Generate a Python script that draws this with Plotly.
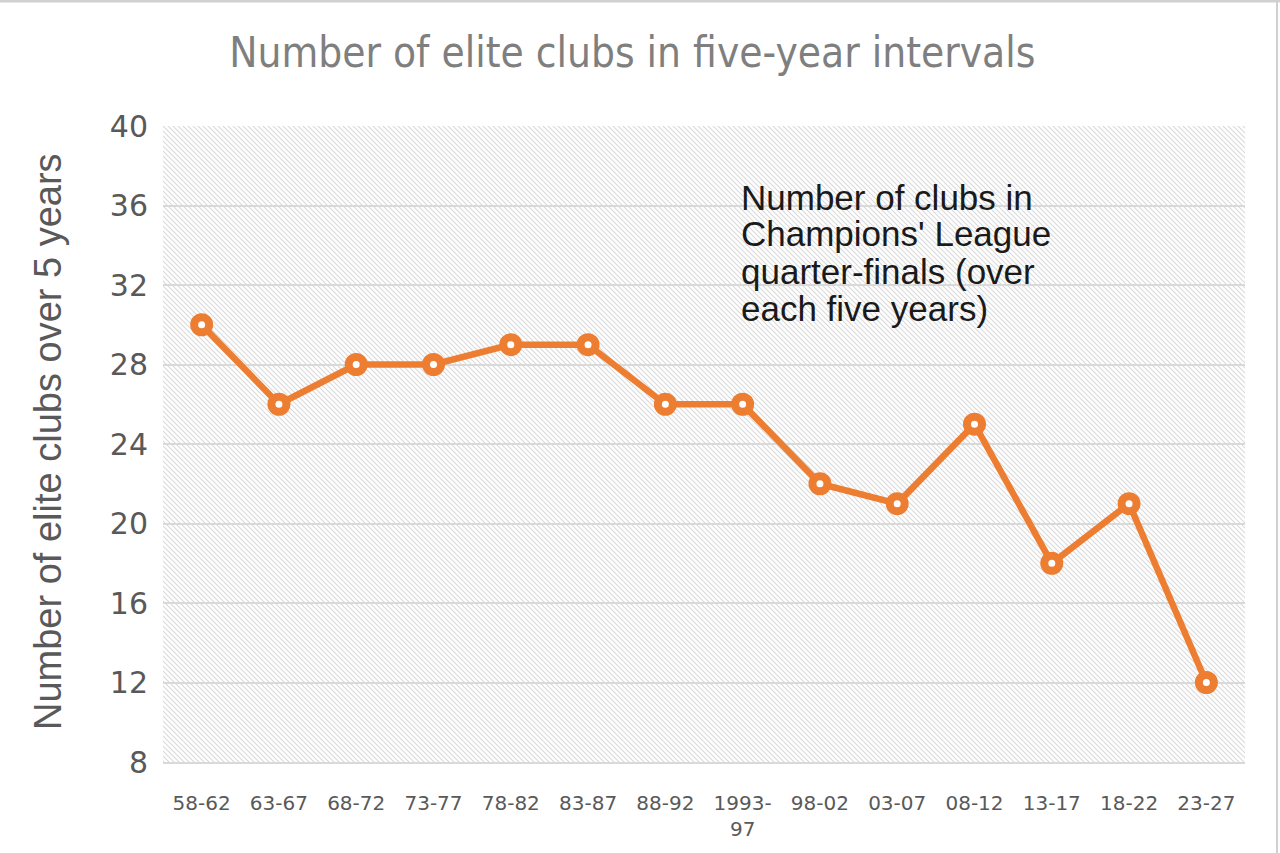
import base64
import plotly.graph_objects as go

# ---- data ----
periods = ["58-62", "63-67", "68-72", "73-77", "78-82", "83-87", "88-92",
           "1993-<br>97", "98-02", "03-07", "08-12", "13-17", "18-22", "23-27"]
elite_clubs = [30, 26, 28, 28, 29, 29, 26, 26, 22, 21, 25, 18, 21, 12]
y_ticks = [8, 12, 16, 20, 24, 28, 32, 36, 40]
title_text = "Number of elite clubs in five-year intervals"
y_title = "Number of elite clubs over 5 years"
note_lines = ["Number of clubs in", "Champions' League",
              "quarter-finals (over", "each five years)"]

# ---- layout geometry (px) ----
W, H = 1280, 853
ML, MR, MT, MB = 163, 35, 126, 91
PW, PH = W - ML - MR, H - MT - MB

ORANGE = "#ED7D31"
GRID = "#d9d9d9"

# hatched plot-area background as an inline SVG pattern
svg = (f'<svg xmlns="http://www.w3.org/2000/svg" width="{PW}" height="{PH}">'
       '<defs><pattern id="p" width="5" height="5" patternUnits="userSpaceOnUse">'
       '<path d="M-1,-1 L6,6 M-1,4 L1,6 M4,-1 L6,1" stroke="#d9d9d9" stroke-width="1.1"/>'
       '</pattern></defs><rect width="100%" height="100%" fill="url(#p)"/></svg>')
svg_uri = "data:image/svg+xml;base64," + base64.b64encode(svg.encode()).decode()

fig = go.Figure()
fig.add_trace(go.Scatter(
    x=periods, y=elite_clubs, mode="lines+markers",
    line=dict(color=ORANGE, width=6.5),
    marker=dict(symbol="circle", size=15, color="white",
                line=dict(color=ORANGE, width=8)),
    showlegend=False, hoverinfo="x+y",
))

def px_to_paper_x(px):
    return (px - ML) / PW

def px_to_paper_y(py):
    return (H - MB - py) / PH

annotations = [
    dict(text=y_title, xref="paper", yref="paper",
         x=px_to_paper_x(48), y=px_to_paper_y(442), textangle=-90,
         xanchor="center", yanchor="middle", showarrow=False,
         font=dict(family="Liberation Sans, Arial, sans-serif", size=38, color="#595959")),
]
for i, line in enumerate(note_lines):
    annotations.append(dict(
        text=line, xref="paper", yref="paper",
        x=px_to_paper_x(739), y=px_to_paper_y(197 + 37 * i),
        xanchor="left", yanchor="middle", showarrow=False,
        font=dict(family="Liberation Sans, Arial, sans-serif", size=35, color="#1a1a1a")))

fig.update_layout(
    width=W, height=H,
    margin=dict(l=ML, r=MR, t=MT, b=MB, autoexpand=False),
    paper_bgcolor="white", plot_bgcolor="rgba(0,0,0,0)",
    title=dict(text=title_text, x=0.494, xanchor="center",
               y=1 - 52 / H, yanchor="middle", yref="container",
               font=dict(family="Liberation Sans Narrow, DejaVu Sans Condensed, Arial Narrow, sans-serif",
                         size=42, color="#7f7f7f")),
    xaxis=dict(type="category", range=[-0.5, len(periods) - 0.5],
               showgrid=False, showline=True, linecolor=GRID, linewidth=2,
               ticks="", ticklabelstandoff=22, tickangle=0,
               tickfont=dict(family="DejaVu Sans, sans-serif", size=20, color="#595959"),
               zeroline=False, fixedrange=True),
    yaxis=dict(range=[min(y_ticks), max(y_ticks)], tickvals=y_ticks,
               showgrid=True, gridcolor=GRID, gridwidth=1.5,
               showline=False, zeroline=False, ticks="", ticklabelstandoff=14,
               tickfont=dict(family="DejaVu Sans, sans-serif", size=30, color="#595959"),
               fixedrange=True),
    images=[dict(source=svg_uri, xref="paper", yref="paper", x=0, y=1,
                 sizex=1, sizey=1, xanchor="left", yanchor="top",
                 sizing="stretch", layer="below")],
    annotations=annotations,
    shapes=[
        dict(type="line", xref="paper", yref="paper",
             x0=px_to_paper_x(0), x1=px_to_paper_x(W), y0=px_to_paper_y(1), y1=px_to_paper_y(1),
             line=dict(color="#d0d0d0", width=3)),
        dict(type="line", xref="paper", yref="paper",
             x0=px_to_paper_x(1277), x1=px_to_paper_x(1277), y0=px_to_paper_y(0), y1=px_to_paper_y(H),
             line=dict(color="#d0d0d0", width=2)),
    ],
)

fig.write_html("out.html")
